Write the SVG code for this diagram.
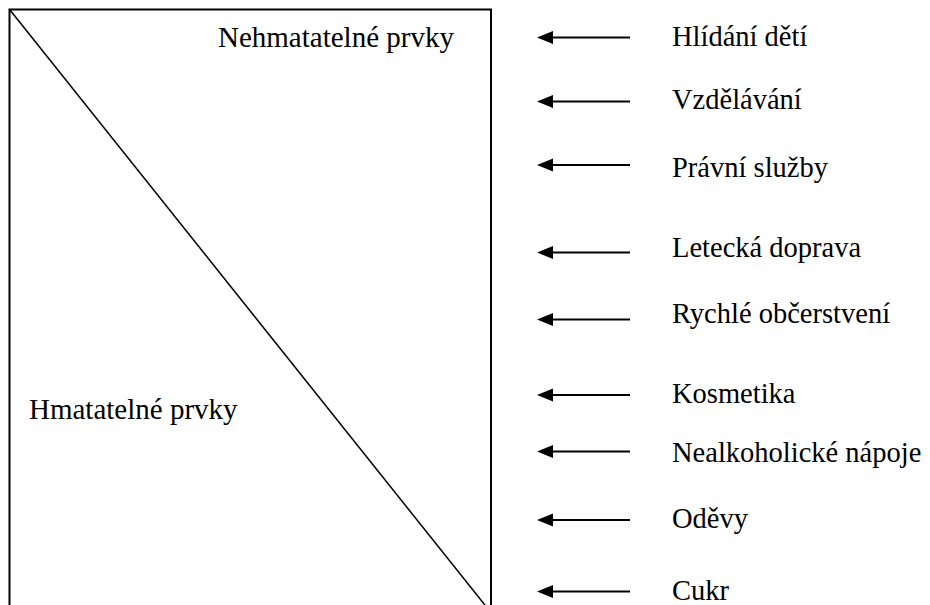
<svg xmlns="http://www.w3.org/2000/svg" width="930" height="605" viewBox="0 0 930 605">
<style>
text{font-family:"Liberation Serif","Times New Roman",serif;font-size:29px;fill:#000}
.lb{font-size:28.5px}
.ln{stroke:#000;stroke-width:2;fill:none}
.ah{fill:#000}
</style>
<rect width="930" height="605" fill="#fff"/>
<g id="box">
<rect class="ln" x="9.5" y="9.5" width="481.5" height="610"/>
<line x1="10" y1="10" x2="490.5" y2="612" stroke="#000" stroke-width="1.5"/>
<text x="218" y="47">Nehmatatelné prvky</text>
<text x="29" y="419">Hmatatelné prvky</text>
</g>
<g id="connectors">
<g transform="translate(0,37.5)"><line class="ln" x1="630" y1="0" x2="548" y2="0"/><path class="ah" d="M537,0 L553,-6.5 L553,6.5 Z"/></g>
<g transform="translate(0,101.5)"><line class="ln" x1="630" y1="0" x2="548" y2="0"/><path class="ah" d="M537,0 L553,-6.5 L553,6.5 Z"/></g>
<g transform="translate(0,165)"><line class="ln" x1="630" y1="0" x2="548" y2="0"/><path class="ah" d="M537,0 L553,-6.5 L553,6.5 Z"/></g>
<g transform="translate(0,252.5)"><line class="ln" x1="630" y1="0" x2="548" y2="0"/><path class="ah" d="M537,0 L553,-6.5 L553,6.5 Z"/></g>
<g transform="translate(0,319.5)"><line class="ln" x1="630" y1="0" x2="548" y2="0"/><path class="ah" d="M537,0 L553,-6.5 L553,6.5 Z"/></g>
<g transform="translate(0,395)"><line class="ln" x1="630" y1="0" x2="548" y2="0"/><path class="ah" d="M537,0 L553,-6.5 L553,6.5 Z"/></g>
<g transform="translate(0,451.5)"><line class="ln" x1="630" y1="0" x2="548" y2="0"/><path class="ah" d="M537,0 L553,-6.5 L553,6.5 Z"/></g>
<g transform="translate(0,520)"><line class="ln" x1="630" y1="0" x2="548" y2="0"/><path class="ah" d="M537,0 L553,-6.5 L553,6.5 Z"/></g>
<g transform="translate(0,591.5)"><line class="ln" x1="630" y1="0" x2="548" y2="0"/><path class="ah" d="M537,0 L553,-6.5 L553,6.5 Z"/></g>
</g>
<g id="n1"><text class="lb" x="672" y="46">Hlídání dětí</text></g>
<g id="n2"><text class="lb" x="672" y="109">Vzdělávání</text></g>
<g id="n3"><text class="lb" x="672" y="177">Právní služby</text></g>
<g id="n4"><text class="lb" x="672" y="257">Letecká doprava</text></g>
<g id="n5"><text class="lb" x="672" y="323">Rychlé občerstvení</text></g>
<g id="n6"><text class="lb" x="672" y="403">Kosmetika</text></g>
<g id="n7"><text class="lb" x="672" y="462">Nealkoholické nápoje</text></g>
<g id="n8"><text class="lb" x="672" y="528">Oděvy</text></g>
<g id="n9"><text class="lb" x="672" y="600">Cukr</text></g>
</svg>
